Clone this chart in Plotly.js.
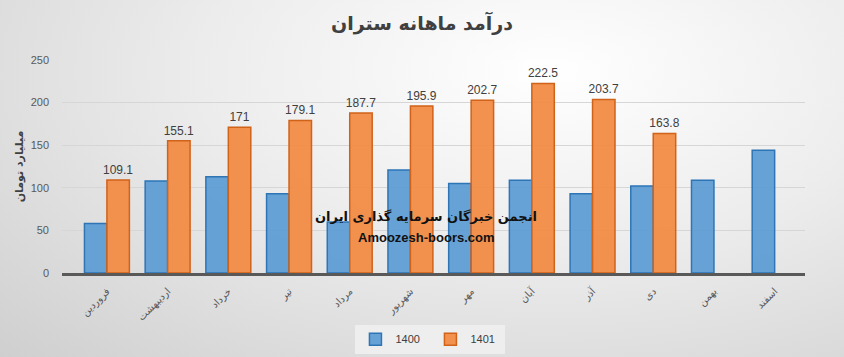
<!DOCTYPE html>
<html>
<head>
<meta charset="utf-8">
<script src="https://cdn.plot.ly/plotly-3.0.1.min.js"></script>
<style>
html,body{margin:0;padding:0;}
#chart{width:844px;height:357px;background:radial-gradient(ellipse at 65% 20%, #ffffff 0%, #ececec 45%, #cfcfcf 100%);}
</style>
</head>
<body>
<div id="chart"></div>
<script>
const months = ["فروردین","اردیبهشت","خرداد","تیر","مرداد","شهریور","مهر","آبان","آذر","دی","بهمن","اسفند"];
const sales1400 = [58, 108, 113, 93, 60, 121, 105, 109, 93, 102, 109, 144];
const sales1401 = [109.1, 155.1, 171, 179.1, 187.7, 195.9, 202.7, 222.5, 203.7, 163.8, null, null];
const yTicks = [0, 50, 100, 150, 200, 250];

const traces = [
  {
    type: 'bar', name: '1400', x: months, y: sales1400,
    marker: {color: 'rgba(91,155,213,0.92)', line: {color: '#2E75B6', width: 1.5}},
    hoverinfo: 'x+y'
  },
  {
    type: 'bar', name: '1401', x: months, y: sales1401,
    text: sales1401.map(v => v == null ? '' : String(v)),
    textposition: 'outside', cliponaxis: false, constraintext: 'none',
    textfont: {family: 'Liberation Sans, Arial, sans-serif', size: 12, color: '#404040'},
    marker: {color: 'rgba(242,140,69,0.95)', line: {color: '#D0621A', width: 1.5}},
    hoverinfo: 'x+y'
  }
];

const layout = {
  width: 844, height: 357,
  paper_bgcolor: 'rgba(0,0,0,0)', plot_bgcolor: 'rgba(0,0,0,0)',
  margin: {l: 62, r: 39, t: 60, b: 84},
  barmode: 'group', bargap: 0.26, bargroupgap: 0,
  font: {family: 'Liberation Sans, Arial, sans-serif', color: '#595959'},
  title: {text: '<b>درآمد ماهانه ستران</b>', x: 0.5, xanchor: 'center', y: 0.935, yanchor: 'middle',
          font: {family: 'DejaVu Sans, Noto Sans, sans-serif', size: 19, color: '#404040'}},
  xaxis: {
    automargin: false, range: [-0.74, 11.5],
    tickangle: -45, tickfont: {size: 10, color: '#595959', family: 'DejaVu Sans, Noto Sans, sans-serif'},
    ticklabelstandoff: 6,
    showline: true, linecolor: '#595959', linewidth: 2.5, ticks: '', showgrid: false
  },
  yaxis: {
    automargin: false,
    range: [0, 250], tickvals: yTicks, ticktext: yTicks.map(String),
    tickfont: {size: 11, color: '#595959'},
    showgrid: true, gridcolor: '#d6d6d6', gridwidth: 1, zeroline: false, showline: false,
    ticklabelstandoff: 12,
    title: {text: '<b>میلیارد تومان</b>', standoff: 4, font: {size: 11, color: '#404040', family: 'DejaVu Sans, Noto Sans, sans-serif'}}
  },
  legend: {
    orientation: 'h', xref: 'container', yref: 'container',
    x: 0.51, xanchor: 'center', y: 0.05, yanchor: 'middle',
    bgcolor: 'rgba(240,240,240,0.9)', font: {size: 11, color: '#404040'},
    itemwidth: 30, entrywidth: 30, entrywidthmode: 'pixels'
  },
  showlegend: true,
  annotations: [
    {text: '<b>انجمن خبرگان سرمایه گذاری ایران</b>', xref: 'paper', yref: 'paper', x: 0.49, y: 0.265,
     xanchor: 'center', yanchor: 'middle',
     showarrow: false, font: {size: 13, color: '#111', family: 'DejaVu Sans, Noto Sans, sans-serif'}},
    {text: '<b>Amoozesh-boors.com</b>', xref: 'paper', yref: 'paper', x: 0.49, y: 0.165,
     xanchor: 'center', yanchor: 'middle',
     showarrow: false, font: {size: 13, color: '#111', family: 'Liberation Sans, Arial, sans-serif'}}
  ]
};

Plotly.newPlot('chart', traces, layout, {displayModeBar: false, staticPlot: true});
</script>
</body>
</html>
